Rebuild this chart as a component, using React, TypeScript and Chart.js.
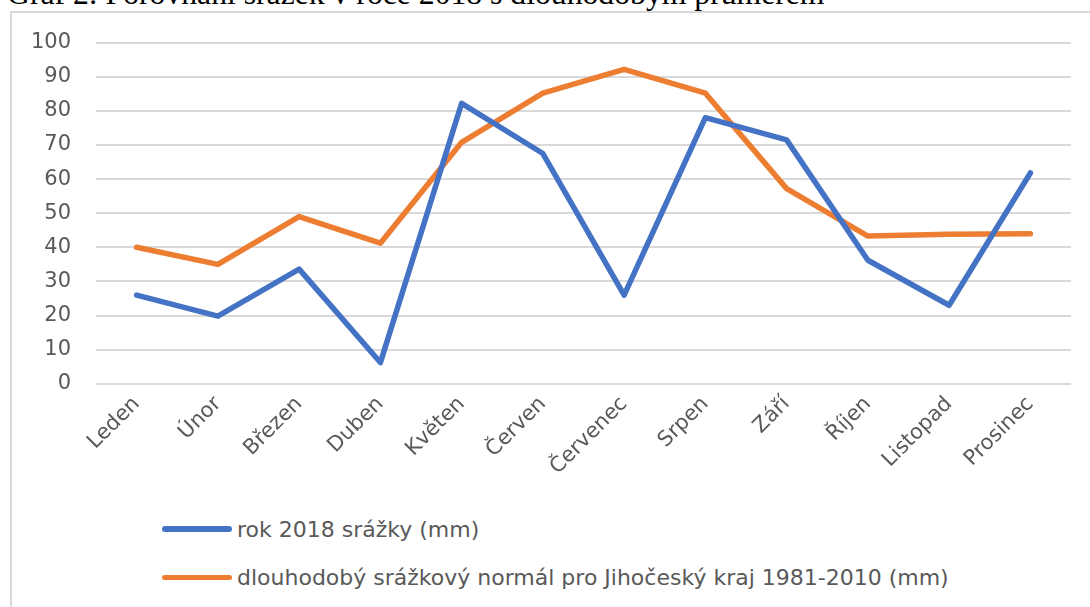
import React, { useEffect, useRef } from "react";
import { Chart, registerables } from "chart.js";

Chart.register(...registerables);

const TITLE = "Graf 2: Porovnání srážek v roce 2018 s dlouhodobým průměrem";
const MONTHS = ["Leden", "Únor", "Březen", "Duben", "Květen", "Červen", "Červenec", "Srpen", "Září", "Říjen", "Listopad", "Prosinec"];
const RAIN_2018 = [26, 19.8, 33.6, 6.2, 82.2, 67.5, 26, 78, 71.5, 36.2, 23, 61.8];
const NORMAL_1981_2010 = [40, 35, 49, 41.2, 70.8, 85.2, 92.2, 85.2, 57.2, 43.3, 43.8, 44];
const SERIES_LABELS = ["rok 2018 srážky (mm)", "dlouhodobý srážkový normál pro Jihočeský kraj 1981-2010 (mm)"];
const SERIES_COLORS = ["#4472C4", "#ED7D31"];
const Y_MIN = 0;
const Y_MAX = 100;
const Y_STEP = 10;

const AXIS_FONT = "'DejaVu Sans', sans-serif";
const TEXT_COLOR = "#595959";

export default function App() {
  const canvasRef = useRef<HTMLCanvasElement | null>(null);

  useEffect(() => {
    if (!canvasRef.current) return;
    const seriesData = [RAIN_2018, NORMAL_1981_2010];
    const chart = new Chart(canvasRef.current, {
      type: "line",
      data: {
        labels: MONTHS,
        datasets: seriesData.map((d, i) => ({
          label: SERIES_LABELS[i],
          data: d,
          borderColor: SERIES_COLORS[i],
          backgroundColor: SERIES_COLORS[i],
          borderWidth: 5.5,
          borderCapStyle: "round" as const,
          borderJoinStyle: "round" as const,
          pointRadius: 0,
          pointHoverRadius: 0,
          tension: 0,
          fill: false,
        })),
      },
      options: {
        animation: false,
        responsive: false,
        devicePixelRatio: 1,
        layout: { padding: { left: 0, right: 15, top: 29.7, bottom: 0 } },
        plugins: {
          legend: { display: false },
          tooltip: { enabled: false },
          title: { display: false },
        },
        scales: {
          x: {
            offset: true,
            grid: { display: false, drawTicks: false },
            border: { display: false },
            ticks: {
              minRotation: 45,
              maxRotation: 45,
              autoSkip: false,
              padding: 8,
              color: TEXT_COLOR,
              font: { family: AXIS_FONT, size: 21 },
            },
            afterFit: (axis: any) => {
              axis.height = 89.3;
            },
          },
          y: {
            min: Y_MIN,
            max: Y_MAX,
            grid: { color: "#d9d9d9", lineWidth: 2, drawTicks: false },
            border: { display: false },
            ticks: {
              stepSize: Y_STEP,
              padding: 25,
              color: TEXT_COLOR,
              font: { family: AXIS_FONT, size: 21 },
            },
            afterFit: (axis: any) => {
              axis.width = 85;
              axis.paddingTop = 10;
              axis.paddingBottom = 0;
            },
          },
        },
      },
    });
    return () => chart.destroy();
  }, []);

  return (
    <div style={{ position: "absolute", left: 0, top: 0, width: 1090, height: 607, overflow: "hidden", background: "#fff" }}>
      <div
        style={{
          position: "absolute",
          left: 7,
          top: -21.6,
          fontFamily: "'Liberation Serif', serif",
          fontSize: 31.7,
          lineHeight: "31.7px",
          whiteSpace: "nowrap",
          color: "#000",
        }}
      >
        {TITLE}
      </div>
      <div
        style={{
          position: "absolute",
          left: 10,
          top: 11,
          width: 1100,
          height: 620,
          border: "2px solid #d9d9d9",
          boxSizing: "border-box",
        }}
      />
      <canvas
        ref={canvasRef}
        width={1075}
        height={460}
        style={{ position: "absolute", left: 11, top: 13, width: 1075, height: 460 }}
      />
      {SERIES_LABELS.map((label, i) => (
        <div
          key={label}
          style={{ position: "absolute", left: 162, top: 529 + i * 48.5 - 15, height: 30, display: "flex", alignItems: "center" }}
        >
          <div style={{ width: 70, height: 5.5, borderRadius: 3, background: SERIES_COLORS[i] }} />
          <span
            style={{
              marginLeft: 5,
              fontFamily: AXIS_FONT,
              fontSize: 22,
              color: TEXT_COLOR,
              whiteSpace: "nowrap",
            }}
          >
            {label}
          </span>
        </div>
      ))}
    </div>
  );
}
